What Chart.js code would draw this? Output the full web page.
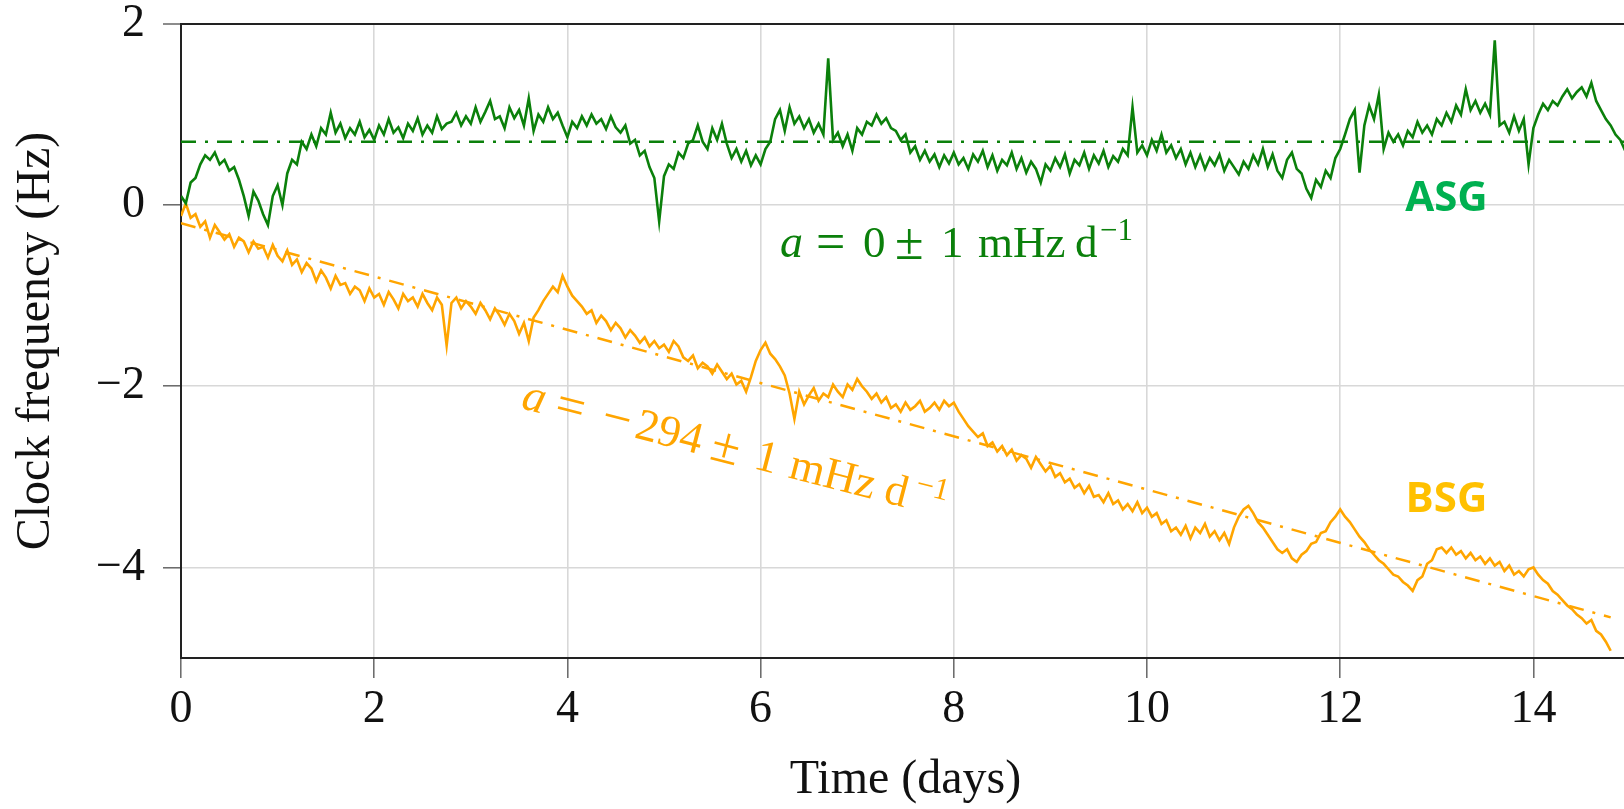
<!DOCTYPE html>
<html>
<head>
<meta charset="utf-8">
<script src="https://cdn.jsdelivr.net/npm/chart.js@4.4.0/dist/chart.umd.min.js"></script>
<style>
  html, body { margin: 0; padding: 0; background: #fff; overflow: hidden; }
  #wrap { width: 1640px; height: 809px; }
</style>
</head>
<body>
<div id="wrap"><canvas id="clock"></canvas></div>
<script>
// one sample every 0.05 day
const STEP = 0.05

const asgValues = [
  0.10, 0.02, 0.25, 0.30, 0.45, 0.55, 0.50, 0.58, 0.45, 0.50, 0.38, 0.42, 0.28, 0.10, -0.12, 0.15, 0.05, -0.10, -0.22, 0.10,
  0.22, 0.00, 0.35, 0.50, 0.45, 0.70, 0.62, 0.78, 0.65, 0.85, 0.78, 1.02, 0.80, 0.90, 0.74, 0.85, 0.78, 0.92, 0.75, 0.83,
  0.72, 0.88, 0.78, 0.95, 0.80, 0.86, 0.74, 0.90, 0.82, 0.96, 0.78, 0.88, 0.80, 0.98, 0.84, 0.90, 0.92, 1.02, 0.88, 0.98,
  0.90, 1.08, 0.92, 1.03, 1.15, 0.95, 0.98, 0.85, 1.08, 0.96, 1.05, 0.88, 1.18, 0.82, 1.00, 0.92, 1.08, 0.95, 1.02, 0.88,
  0.75, 0.92, 0.85, 0.98, 0.88, 1.00, 0.90, 0.95, 0.84, 0.98, 0.86, 0.80, 0.88, 0.68, 0.72, 0.55, 0.60, 0.42, 0.30, -0.18,
  0.32, 0.45, 0.40, 0.58, 0.52, 0.68, 0.72, 0.88, 0.70, 0.62, 0.85, 0.72, 0.90, 0.68, 0.52, 0.62, 0.48, 0.60, 0.44, 0.55,
  0.45, 0.62, 0.70, 0.95, 1.05, 0.82, 1.08, 0.90, 0.98, 0.85, 0.95, 0.80, 0.90, 0.78, 1.62, 0.72, 0.80, 0.65, 0.78, 0.60,
  0.85, 0.78, 0.92, 0.88, 1.00, 0.90, 0.96, 0.85, 0.82, 0.72, 0.78, 0.58, 0.65, 0.50, 0.60, 0.48, 0.56, 0.42, 0.55, 0.46,
  0.58, 0.45, 0.52, 0.40, 0.56, 0.48, 0.60, 0.42, 0.55, 0.38, 0.50, 0.44, 0.58, 0.40, 0.52, 0.36, 0.48, 0.40, 0.25, 0.45,
  0.38, 0.52, 0.42, 0.56, 0.35, 0.50, 0.44, 0.58, 0.40, 0.55, 0.46, 0.60, 0.42, 0.54, 0.48, 0.62, 0.55, 1.08, 0.58, 0.66,
  0.55, 0.72, 0.60, 0.78, 0.58, 0.66, 0.52, 0.62, 0.45, 0.58, 0.42, 0.55, 0.40, 0.52, 0.44, 0.56, 0.38, 0.50, 0.42, 0.34,
  0.48, 0.40, 0.55, 0.45, 0.62, 0.42, 0.56, 0.38, 0.30, 0.50, 0.58, 0.40, 0.35, 0.18, 0.08, 0.28, 0.20, 0.38, 0.30, 0.52,
  0.62, 0.78, 0.95, 1.05, 0.36, 0.88, 1.10, 0.95, 1.22, 0.62, 0.80, 0.70, 0.78, 0.66, 0.82, 0.75, 0.92, 0.80, 0.88, 0.78,
  0.95, 0.88, 1.02, 0.92, 1.10, 1.00, 1.28, 1.05, 1.15, 1.02, 1.12, 1.00, 1.82, 0.88, 0.92, 0.80, 0.98, 0.82, 0.95, 0.45,
  0.85, 1.00, 1.12, 1.05, 1.15, 1.10, 1.20, 1.28, 1.18, 1.25, 1.30, 1.20, 1.35, 1.15, 1.05, 0.95, 0.88, 0.78, 0.72, 0.60
]

const bsgValues = [
  -0.12, 0.02, -0.14, -0.10, -0.24, -0.18, -0.36, -0.22, -0.30, -0.38, -0.32, -0.46, -0.36, -0.40, -0.52, -0.40, -0.48, -0.46, -0.58, -0.44,
  -0.56, -0.62, -0.50, -0.66, -0.60, -0.74, -0.64, -0.70, -0.84, -0.72, -0.80, -0.92, -0.78, -0.88, -0.86, -0.98, -0.90, -0.94, -1.06, -0.92,
  -1.02, -0.98, -1.10, -0.96, -1.04, -1.14, -0.98, -1.06, -1.02, -1.12, -0.98, -1.08, -1.16, -1.02, -1.10, -1.55, -1.08, -1.02, -1.14, -1.06,
  -1.12, -1.20, -1.08, -1.16, -1.26, -1.14, -1.22, -1.32, -1.20, -1.28, -1.42, -1.30, -1.50, -1.24, -1.16, -1.06, -0.98, -0.90, -0.96, -0.78,
  -0.90, -1.00, -1.06, -1.12, -1.20, -1.16, -1.30, -1.22, -1.28, -1.38, -1.30, -1.36, -1.46, -1.38, -1.44, -1.52, -1.46, -1.56, -1.50, -1.58,
  -1.54, -1.62, -1.50, -1.56, -1.68, -1.72, -1.66, -1.80, -1.74, -1.78, -1.86, -1.76, -1.84, -1.92, -1.86, -1.98, -1.94, -2.06, -1.90, -1.72,
  -1.60, -1.52, -1.64, -1.70, -1.78, -1.88, -2.08, -2.36, -2.06, -2.20, -2.10, -2.02, -2.16, -2.08, -2.12, -1.98, -2.06, -2.12, -1.98, -2.04,
  -1.92, -2.00, -2.06, -2.14, -2.08, -2.18, -2.12, -2.24, -2.20, -2.28, -2.18, -2.26, -2.22, -2.16, -2.28, -2.24, -2.18, -2.26, -2.16, -2.22,
  -2.18, -2.28, -2.36, -2.44, -2.50, -2.56, -2.52, -2.66, -2.62, -2.72, -2.66, -2.76, -2.70, -2.82, -2.76, -2.80, -2.90, -2.78, -2.86, -2.94,
  -2.88, -3.00, -2.96, -3.06, -3.02, -3.12, -3.08, -3.18, -3.10, -3.22, -3.20, -3.28, -3.18, -3.30, -3.26, -3.36, -3.30, -3.38, -3.28, -3.40,
  -3.34, -3.44, -3.40, -3.52, -3.48, -3.60, -3.56, -3.64, -3.54, -3.68, -3.56, -3.62, -3.52, -3.66, -3.60, -3.70, -3.62, -3.74, -3.56, -3.44,
  -3.36, -3.32, -3.40, -3.50, -3.56, -3.64, -3.72, -3.80, -3.84, -3.80, -3.90, -3.94, -3.86, -3.82, -3.74, -3.72, -3.62, -3.60, -3.50, -3.44,
  -3.36, -3.44, -3.50, -3.58, -3.66, -3.72, -3.80, -3.86, -3.92, -3.96, -4.02, -4.08, -4.10, -4.16, -4.20, -4.26, -4.14, -4.10, -3.96, -3.92,
  -3.80, -3.78, -3.84, -3.78, -3.86, -3.82, -3.90, -3.84, -3.92, -3.88, -3.96, -3.90, -3.98, -3.94, -4.04, -3.98, -4.08, -4.04, -4.10, -4.02,
  -4.00, -4.08, -4.14, -4.18, -4.26, -4.30, -4.36, -4.42, -4.46, -4.52, -4.56, -4.62, -4.58, -4.70, -4.74, -4.82, -4.92
]

// linear fits: y = a*t + b  (a in Hz/day)
const asgFit = {a: 0, b: 0.70, from: 0, to: 15}
const bsgFit = {a: -0.294, b: -0.20, from: 0, to: 14.8}

const xTicks = [0, 2, 4, 6, 8, 10, 12, 14]
const yTicks = [-4, -2, 0, 2]

const GREEN = "#0b800b"
const ORANGE = "#ffa500"

function toPoints(values) {
  return values.map((v, i) => ({x: Math.round(i * STEP * 100) / 100, y: v}))
}
function fitLine(f) {
  return [{x: f.from, y: f.a * f.from + f.b}, {x: f.to, y: f.a * f.to + f.b}]
}

// slope labels, LaTeX-like: pieces placed along the baseline (offsets in px)
const asgSlopeLabel = [["a", 0, "i"], ["=", 36, "op"], ["0", 83], ["±", 115, "op"], ["1", 161], ["mHz", 198], ["d", 295], ["−1", 320, "sup"]]
const bsgSlopeLabel = [["a", 0, "i"], ["=", 34, "op"], ["−", 82, "op"], ["294", 117], ["±", 195, "op"], ["1", 240], ["mHz", 276], ["d", 374], ["−1", 403, "sup"]]

function drawPieces(ctx, x, y, angle, color, pieces) {
  ctx.save()
  ctx.translate(x, y)
  ctx.rotate(angle * Math.PI / 180)
  ctx.fillStyle = color
  ctx.textAlign = "left"
  ctx.textBaseline = "alphabetic"
  pieces.forEach(p => {
    if (p[2] == "i") ctx.font = "italic 46px 'Liberation Serif'"
    else if (p[2] == "sup") ctx.font = "31px 'Liberation Serif'"
    else if (p[2] == "op") ctx.font = "52px 'Liberation Serif'"
    else ctx.font = "45px 'Liberation Serif'"
    ctx.fillText(p[0], p[1], p[2] == "sup" ? -17 : (p[2] == "op" ? 2 : 0))
  })
  ctx.restore()
}

const labelsPlugin = {
  id: "labels",
  afterDatasetsDraw(chart) {
    const ctx = chart.ctx
    const xs = chart.scales.x, ys = chart.scales.y
    drawPieces(ctx, xs.getPixelForValue(6.2), ys.getPixelForValue(-0.575), 0, GREEN, asgSlopeLabel)
    drawPieces(ctx, xs.getPixelForValue(3.51), ys.getPixelForValue(-2.24), 14.5, ORANGE, bsgSlopeLabel)

    ctx.save()
    ctx.font = "bold 42px 'Open Sans'"
    ctx.textAlign = "center"
    ctx.textBaseline = "middle"
    ctx.fillStyle = "#00b050"
    ctx.fillText("ASG", xs.getPixelForValue(13.1), ys.getPixelForValue(0.07))
    ctx.fillStyle = "#ffc000"
    ctx.fillText("BSG", xs.getPixelForValue(13.1), ys.getPixelForValue(-3.26))
    ctx.restore()
  }
}

new Chart(document.getElementById("clock"), {
  type: "line",
  data: {
    datasets: [
      {label: "ASG fit", data: fitLine(asgFit), borderColor: GREEN, borderWidth: 2.5, borderDash: [15, 9, 3, 9], order: 0},
      {label: "BSG fit", data: fitLine(bsgFit), borderColor: ORANGE, borderWidth: 2.5, borderDash: [15, 9, 3, 9], order: 0},
      {label: "ASG", data: toPoints(asgValues), borderColor: GREEN, borderWidth: 2.6, order: 1},
      {label: "BSG", data: toPoints(bsgValues), borderColor: ORANGE, borderWidth: 2.6, order: 1}
    ]
  },
  options: {
    responsive: true,
    maintainAspectRatio: false,
    animation: false,
    layout: {padding: {top: 24, right: 10, left: 0, bottom: 0}},
    elements: {point: {radius: 0}, line: {tension: 0}},
    plugins: {legend: {display: false}, tooltip: {enabled: false}},
    scales: {
      x: {
        type: "linear",
        min: 0,
        max: 15,
        afterBuildTicks: s => { s.ticks = xTicks.map(v => ({value: v})) },
        afterFit: s => { s.height = 151; s.paddingLeft = 0; s.paddingRight = 0 },
        grid: {color: "#d8d8d8", lineWidth: 1.6, tickLength: 20, tickColor: "#666", tickWidth: 1.5},
        border: {color: "#222", width: 2},
        ticks: {padding: 9, color: "#111", font: {family: "'Liberation Serif'", size: 46, lineHeight: 1}, maxRotation: 0},
        title: {display: true, text: "Time (days)", color: "#111", padding: 0,
                font: {family: "'Liberation Serif'", size: 48, lineHeight: 1.2}}
      },
      y: {
        min: -5,
        max: 2,
        afterBuildTicks: s => { s.ticks = yTicks.map(v => ({value: v})) },
        afterFit: s => { s.width = 181; s.paddingTop = 0; s.paddingBottom = 0 },
        grid: {
          color: c => c.tick && c.tick.value == 2 ? "#222" : "#d8d8d8",
          lineWidth: c => c.tick && c.tick.value == 2 ? 2 : 1.6,
          tickLength: 18, tickColor: "#666", tickWidth: 1.5
        },
        border: {color: "#222", width: 2},
        ticks: {
          padding: 18, color: "#111",
          font: {family: "'Liberation Serif'", size: 46, lineHeight: 1},
          callback: v => v < 0 ? "−" + Math.abs(v) : String(v)
        },
        title: {display: true, text: "Clock frequency (Hz)", color: "#111", padding: {top: 8, bottom: 0},
                font: {family: "'Liberation Serif'", size: 48, lineHeight: 1.2}}
      }
    }
  },
  plugins: [labelsPlugin]
})
</script>
</body>
</html>
